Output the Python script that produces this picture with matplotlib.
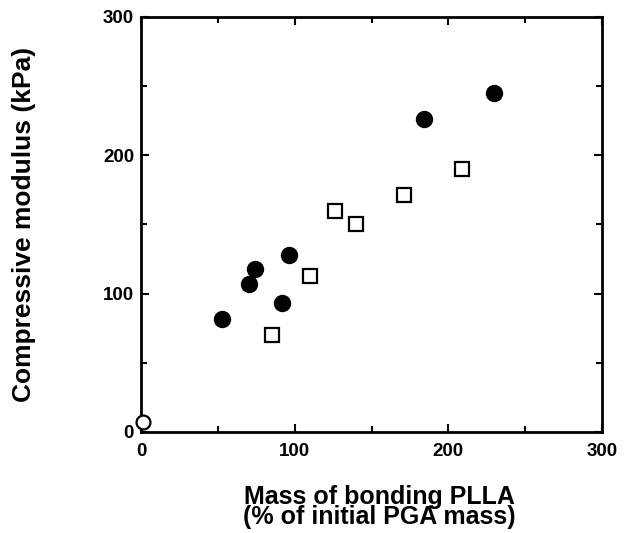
import numpy as np
import matplotlib.pyplot as plt
from matplotlib.ticker import MultipleLocator

# filled circles
filled_x = [53, 70, 74, 92, 96, 184, 230]
filled_y = [82, 107, 118, 93, 128, 226, 245]
# open squares
square_x = [85, 110, 126, 140, 171, 209]
square_y = [70, 113, 160, 150, 171, 190]
# open circle (control)
open_x = [1]
open_y = [7]

xticks = [0, 100, 200, 300]
yticks = [0, 100, 200, 300]

plt.rcParams['font.family'] = ['Liberation Sans', 'DejaVu Sans']
plt.rcParams['font.weight'] = 'bold'

fig = plt.figure(figsize=(6.41, 5.33), dpi=100)
ax = fig.add_axes([141 / 641, 1 - 432 / 533, (602 - 141) / 641, (432 - 17) / 533])

ax.plot(filled_x, filled_y, 'o', color='black', markersize=11.5, clip_on=False)
ax.plot(square_x, square_y, 's', mfc='white', mec='black', mew=1.6,
        markersize=10, clip_on=False)
ax.plot(open_x, open_y, 'o', mfc='white', mec='black', mew=1.6,
        markersize=10, clip_on=False, zorder=5)

ax.set_xlim(0, 300)
ax.set_ylim(0, 300)
ax.set_xticks(xticks)
ax.set_yticks(yticks)
ax.xaxis.set_minor_locator(MultipleLocator(50))
ax.yaxis.set_minor_locator(MultipleLocator(50))
ax.tick_params(which='both', direction='in', top=True, right=True,
               width=1.5, labelsize=13.5)
ax.tick_params(which='major', length=6)
ax.tick_params(which='minor', length=4)
ax.tick_params(axis='x', pad=8)
ax.tick_params(axis='y', pad=5)
for s in ax.spines.values():
    s.set_linewidth(2)

ax.set_xlabel('Mass of bonding PLLA\n(% of initial PGA mass)', fontsize=18,
              fontweight='bold', labelpad=18, linespacing=0.8)
ax.xaxis.label.set_x(0.518)
ax.set_ylabel('Compressive modulus (kPa)', fontsize=19, fontweight='bold',
              labelpad=48)

fig.savefig('out.png', dpi=100)
